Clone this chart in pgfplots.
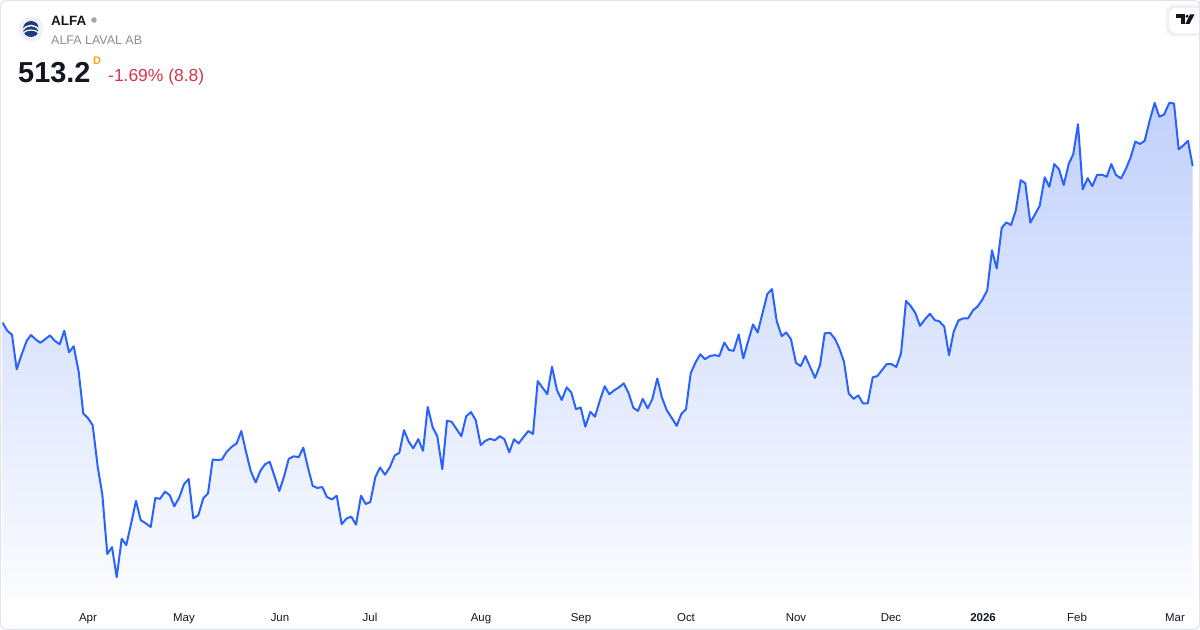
\documentclass[border=0pt]{standalone}
\usepackage{fontspec}
\setmainfont{Liberation Sans}
\usepackage{pgfplots}
\usepackage{pgfplotstable}
\pgfplotsset{compat=1.18}
\definecolor{tvblue}{HTML}{2962FF}
\definecolor{tvtext}{HTML}{131722}
\definecolor{tvgray}{HTML}{8A8D97}
\definecolor{tvred}{HTML}{DC3249}
\definecolor{tvorange}{HTML}{F7A21B}
\definecolor{frame}{HTML}{E0E3EB}
\definecolor{logobg}{HTML}{EEF1F7}
\definecolor{logonavy}{HTML}{1E3C7C}
\definecolor{filltop}{RGB}{194,209,252}
\definecolor{fillbot}{RGB}{251,252,255}
\definecolor{dotgray}{RGB}{163,166,175}
\definecolor{shadowa}{RGB}{246,247,249}
\definecolor{shadowb}{RGB}{238,239,242}

\pgfplotstableread{
x y
2.7 458.7
7.3 455.9
12.0 454.5
16.7 442.5
21.3 447.3
26.7 452.4
31.0 454.4
35.7 452.9
40.3 451.7
45.0 452.9
50.0 454.3
54.7 452.4
59.7 451.2
64.3 455.9
69.0 448.4
73.7 450.5
78.7 441.6
83.3 427.1
88.0 425.5
92.7 423.0
97.7 408.6
102.3 399.0
107.3 378.2
112.0 380.6
116.7 370.1
121.7 383.5
126.3 381.3
131.0 388.6
136.0 396.7
140.7 390.0
145.7 388.9
150.7 387.6
155.3 397.7
160.0 397.4
165.0 399.9
169.7 398.7
174.3 394.8
179.3 397.9
184.0 402.5
188.7 404.3
193.3 390.6
198.3 391.7
203.3 397.6
208.0 399.3
212.7 411.1
217.3 410.9
222.0 411.1
226.7 413.8
231.7 415.5
236.7 416.7
241.3 421.0
246.0 413.8
250.7 407.1
255.7 403.1
260.3 407.1
265.0 409.4
269.7 410.3
274.7 405.1
279.3 400.1
284.0 405.1
288.7 411.3
293.7 412.2
298.7 411.9
303.3 415.2
308.0 408.3
312.7 401.9
317.3 401.2
322.3 401.5
327.0 398.0
332.0 397.2
336.7 398.5
341.7 388.6
346.7 390.6
351.3 391.2
356.0 388.4
361.0 398.5
365.7 395.6
370.3 396.3
375.3 404.9
380.0 408.3
385.0 405.8
389.7 408.3
394.7 412.5
399.3 413.4
404.0 421.3
408.7 417.3
413.3 415.0
418.3 418.2
423.0 414.1
427.7 429.4
432.7 422.3
437.3 419.2
442.3 407.7
447.0 424.6
451.7 424.2
456.7 421.6
461.3 419.2
466.3 426.2
471.0 427.6
475.7 424.8
480.7 416.1
485.3 417.6
490.0 418.3
495.0 417.8
499.7 419.2
504.3 418.2
509.3 413.6
514.0 418.1
518.7 416.7
523.7 419.0
528.3 421.0
533.0 420.0
537.7 438.4
542.7 436.0
547.3 433.8
552.0 443.4
557.0 435.2
561.7 431.8
566.7 436.2
571.3 434.4
576.0 428.6
580.7 429.2
585.3 422.5
590.3 427.7
595.0 426.0
600.0 431.8
604.7 436.6
609.3 433.8
614.3 435.2
619.0 436.2
623.7 437.6
628.7 434.1
633.3 429.1
638.0 428.0
642.7 432.2
647.7 428.9
652.3 432.1
657.3 439.3
662.0 432.6
666.7 428.3
671.7 425.6
676.7 422.8
681.3 426.9
686.0 428.6
690.7 441.1
695.7 445.0
700.3 447.7
705.0 446.0
710.0 447.1
714.7 447.4
719.3 447.1
724.3 451.8
729.0 449.2
733.7 448.9
738.7 454.6
743.3 446.3
748.0 452.1
753.0 458.1
757.7 455.3
762.3 461.7
767.3 468.7
772.0 470.4
776.7 459.3
781.7 454.0
786.3 455.3
791.0 452.9
796.0 444.7
800.7 443.6
805.3 447.1
810.0 443.4
815.0 439.5
820.0 443.9
824.7 455.0
830.0 455.2
834.7 453.2
839.3 449.8
844.0 445.1
848.7 434.1
853.7 432.2
858.3 433.4
863.0 430.6
867.7 430.6
872.7 439.7
877.3 440.1
882.0 442.2
886.7 444.3
891.3 444.3
896.3 443.3
901.0 448.0
906.0 466.3
910.7 464.5
915.3 462.1
920.0 457.6
925.0 459.9
930.0 461.8
934.7 459.6
939.3 459.2
944.3 457.3
949.0 447.4
953.7 455.6
958.5 459.5
963.3 460.2
968.0 460.2
973.0 463.0
977.7 464.4
982.3 466.7
987.2 470.0
992.0 483.9
996.7 477.6
1001.7 491.7
1006.3 493.6
1011.0 492.7
1015.7 497.6
1020.7 508.3
1025.3 507.2
1030.3 493.5
1035.0 496.4
1039.7 499.4
1044.7 509.3
1049.3 506.0
1054.3 513.9
1059.0 512.1
1063.7 506.6
1068.7 513.9
1073.3 517.4
1078.0 527.8
1082.7 505.1
1087.7 509.0
1092.3 506.2
1097.0 510.1
1102.0 510.2
1106.7 509.5
1111.3 513.9
1116.0 510.1
1121.0 508.9
1125.7 512.1
1130.3 515.9
1135.3 521.7
1140.0 520.9
1144.7 522.0
1149.3 528.6
1154.7 535.2
1159.3 530.4
1164.0 531.1
1169.3 535.2
1174.0 535.0
1178.7 519.0
1183.3 520.4
1188.0 522.0
1192.7 513.2
}\alfa

\begin{document}
\begin{tikzpicture}[x=1bp,y=1bp]
\begin{axis}[
  name=ax,
  scale only axis, width=1200bp, height=600bp,
  xmin=0, xmax=1200, ymin=362.2, ymax=571.0,
  axis line style={draw=none},
  ytick=\empty,
  xtick={88,184,280,370,481,581,686,796,891,983,1077,1175},
  xticklabels={Apr,May,Jun,Jul,Aug,Sep,Oct,Nov,Dec,\textbf{2026},Feb,Mar},
  major tick length=0pt,
  tick style={draw=none},
  xticklabel style={font=\fontsize{11.5}{13}\selectfont, text=tvtext, anchor=base, inner sep=0pt, yshift=-22bp},
  clip=false,
]
\addplot[draw=none, top color=filltop, bottom color=fillbot] table[x=x,y=y] {\alfa}
  -- (axis cs:1192.7,362.2) -- (axis cs:2.7,362.2) -- cycle;
\addplot[tvblue, line width=2bp, line join=round, mark=none] table[x=x,y=y] {\alfa};
\end{axis}
\begin{scope}[shift={(ax.south west)}, yshift=-30bp]
% frame (page coords: y = 630 - pixel row)
\draw[frame, line width=1bp, rounded corners=6bp] (0.5,0.5) rectangle (1199.5,629.5);
% logo
\fill[logobg] (31,601) circle (12.5);
\begin{scope}
\clip (31,601) circle (8);
\fill[logonavy] (31,601) circle (8);
\draw[white, line width=1.4bp] (23,600) .. controls (27,606) and (35,606) .. (39,600);
\draw[white, line width=1.2bp] (23,597) .. controls (27,601) and (35,601) .. (39,597);
\end{scope}
% header text
\node[anchor=base west, inner sep=0pt, text=tvtext, font=\fontsize{13.5}{16}\selectfont\bfseries] at (51,604) {ALFA};
\fill[dotgray] (94,610) circle (2.8);
\node[anchor=base west, inner sep=0pt, text=tvgray, font=\fontsize{12.5}{15}\selectfont] at (51,585) {ALFA LAVAL AB};
\node[anchor=base west, inner sep=0pt, text=tvtext, font=\fontsize{29}{32}\selectfont\bfseries] at (18,547) {513.2};
\node[anchor=base west, inner sep=0pt, text=tvorange, font=\fontsize{11}{13}\selectfont\bfseries] at (93,565) {D};
\node[anchor=base west, inner sep=0pt, text=tvred, font=\fontsize{17.5}{20}\selectfont] at (108,548) {-1.69\% (8.8)};
% TradingView tab
\fill[shadowa, rounded corners=8bp] (1165,593) rectangle (1206,626);
\fill[shadowb, rounded corners=7bp] (1167,595) rectangle (1206,624);
\fill[white, rounded corners=7bp] (1169,597) rectangle (1206,622);
\fill[tvtext] (1176,615.5) rectangle (1184.5,612);
\fill[tvtext] (1180.5,615.5) rectangle (1184.5,606);
\fill[tvtext] (1187,613.8) circle (1.7);
\fill[tvtext] (1190,615.5) -- (1194.5,615.5) -- (1189.5,606) -- (1185.3,606) -- cycle;
\draw[frame, line width=1bp] (1199.5,590) -- (1199.5,629);
\coordinate (bbA) at (0,0);
\coordinate (bbB) at (1200,630);
\end{scope}
\pgfresetboundingbox
\path[use as bounding box] (bbA) rectangle (bbB);
\end{tikzpicture}
\end{document}
